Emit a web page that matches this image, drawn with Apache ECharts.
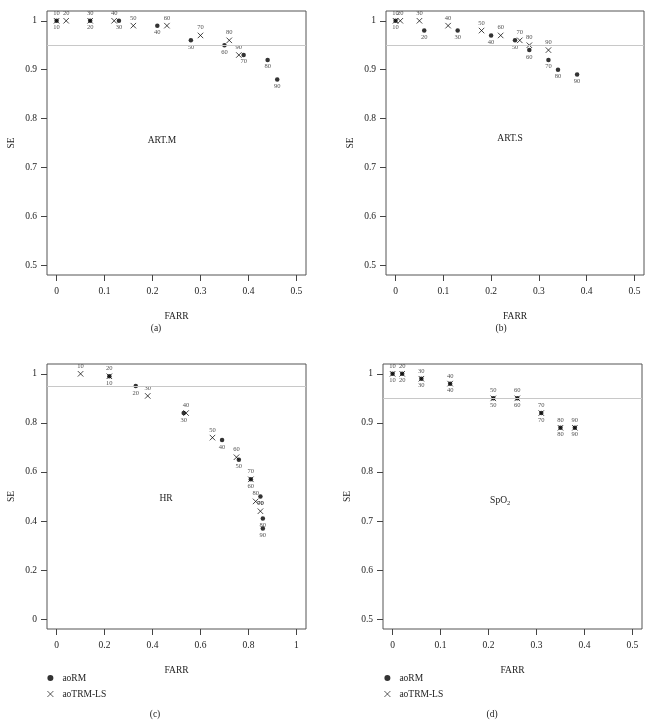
<!DOCTYPE html>
<html><head><meta charset="utf-8">
<script src="https://cdn.jsdelivr.net/npm/echarts@6/dist/echarts.min.js"></script>
<style>html,body{margin:0;padding:0;background:#fff}#c{width:653px;height:725px}</style>
</head><body><div id="c"></div>
<script>
const thresholds = [10, 20, 30, 40, 50, 60, 70, 80, 90];

// (a) ART.M
const artM_rm_farr  = [0, 0.07, 0.13, 0.21, 0.28, 0.35, 0.39, 0.44, 0.46];
const artM_rm_se    = [1, 1, 1, 0.99, 0.96, 0.95, 0.93, 0.92, 0.88];
const artM_trm_farr = [0, 0.02, 0.07, 0.12, 0.16, 0.23, 0.30, 0.36, 0.38];
const artM_trm_se   = [1, 1, 1, 1, 0.99, 0.99, 0.97, 0.96, 0.93];

// (b) ART.S
const artS_rm_farr  = [0, 0.06, 0.13, 0.20, 0.25, 0.28, 0.32, 0.34, 0.38];
const artS_rm_se    = [1, 0.98, 0.98, 0.97, 0.96, 0.94, 0.92, 0.90, 0.89];
const artS_trm_farr = [0, 0.01, 0.05, 0.11, 0.18, 0.22, 0.26, 0.28, 0.32];
const artS_trm_se   = [1, 1, 1, 0.99, 0.98, 0.97, 0.96, 0.95, 0.94];

// (c) HR
const hr_rm_farr  = [0.22, 0.33, 0.53, 0.69, 0.76, 0.81, 0.85, 0.86, 0.86];
const hr_rm_se    = [0.99, 0.95, 0.84, 0.73, 0.65, 0.57, 0.50, 0.41, 0.37];
const hr_trm_farr = [0.10, 0.22, 0.38, 0.54, 0.65, 0.75, 0.81, 0.83, 0.85];
const hr_trm_se   = [1.0, 0.99, 0.91, 0.84, 0.74, 0.66, 0.57, 0.48, 0.44];

// (d) SpO2
const spo2_rm_farr  = [0, 0.02, 0.06, 0.12, 0.21, 0.26, 0.31, 0.35, 0.38];
const spo2_rm_se    = [1, 1, 0.99, 0.98, 0.95, 0.95, 0.92, 0.89, 0.89];
const spo2_trm_farr = [0, 0.02, 0.06, 0.12, 0.21, 0.26, 0.31, 0.35, 0.38];
const spo2_trm_se   = [1, 1, 0.99, 0.98, 0.95, 0.95, 0.92, 0.89, 0.89];

const xTicksHalf = [0, 0.1, 0.2, 0.3, 0.4, 0.5];
const xTicksOne  = [0, 0.2, 0.4, 0.6, 0.8, 1];
const yTicksHalf = [0.5, 0.6, 0.7, 0.8, 0.9, 1];
const yTicksOne  = [0, 0.2, 0.4, 0.6, 0.8, 1];
const refLine = 0.95;

const FONT = '"Liberation Serif", "DejaVu Serif", serif';
const CROSS = 'path://M0,0L10,10M10,0L0,10';
const ink = '#222';

const panels = [
  {rmX: artM_rm_farr, rmY: artM_rm_se, trX: artM_trm_farr, trY: artM_trm_se,
   grid: {left: 47, top: 11, width: 259, height: 264},
   xr: [-0.02, 0.52], yr: [0.48, 1.02], xt: xTicksHalf, yt: yTicksHalf},
  {rmX: artS_rm_farr, rmY: artS_rm_se, trX: artS_trm_farr, trY: artS_trm_se,
   grid: {left: 386, top: 11, width: 258, height: 264},
   xr: [-0.02, 0.52], yr: [0.48, 1.02], xt: xTicksHalf, yt: yTicksHalf},
  {rmX: hr_rm_farr, rmY: hr_rm_se, trX: hr_trm_farr, trY: hr_trm_se,
   grid: {left: 47, top: 364, width: 259, height: 265},
   xr: [-0.04, 1.04], yr: [-0.04, 1.04], xt: xTicksOne, yt: yTicksOne},
  {rmX: spo2_rm_farr, rmY: spo2_rm_se, trX: spo2_trm_farr, trY: spo2_trm_se,
   grid: {left: 383, top: 364, width: 259, height: 265},
   xr: [-0.02, 0.52], yr: [0.48, 1.02], xt: xTicksHalf, yt: yTicksHalf}
];

const grids = [], xAxes = [], yAxes = [], series = [];
const fmt = v => (Math.round(v * 10) / 10).toString();

panels.forEach((p, i) => {
  grids.push(Object.assign({show: true, borderColor: '#555', borderWidth: 1, backgroundColor: 'transparent'}, p.grid));
  xAxes.push({
    gridIndex: i, type: 'value', min: p.xr[0], max: p.xr[1], position: 'bottom',
    name: 'FARR', nameLocation: 'middle', nameGap: 36,
    nameTextStyle: {fontFamily: FONT, fontSize: 9.5, color: ink},
    splitLine: {show: false},
    axisLine: {show: false, onZero: false},
    axisTick: {show: true, customValues: p.xt, length: 6, inside: false, lineStyle: {color: '#444'}},
    axisLabel: {customValues: p.xt, formatter: fmt, margin: 11, fontFamily: FONT, fontSize: 9.5, color: ink}
  });
  yAxes.push({
    gridIndex: i, type: 'value', min: p.yr[0], max: p.yr[1], position: 'left',
    name: 'SE', nameLocation: 'middle', nameGap: 31, nameRotate: 90,
    nameTextStyle: {fontFamily: FONT, fontSize: 9.5, color: ink},
    splitLine: {show: false},
    axisLine: {show: false, onZero: false},
    axisTick: {show: true, customValues: p.yt, length: 6, inside: false, lineStyle: {color: '#444'}},
    axisLabel: {customValues: p.yt, formatter: fmt, margin: 10, fontFamily: FONT, fontSize: 9.5, color: ink}
  });
  series.push({
    name: 'aoRM', type: 'scatter', xAxisIndex: i, yAxisIndex: i,
    symbol: 'circle', symbolSize: 4.5,
    itemStyle: {color: '#000'},
    data: p.rmX.map((x, k) => [x, p.rmY[k], thresholds[k]]),
    label: {show: true, position: 'bottom', distance: 1, formatter: q => q.data[2],
            fontFamily: FONT, fontSize: 6.5, color: ink},
    markLine: {silent: true, symbol: ['none', 'none'], label: {show: false},
               lineStyle: {color: '#c8c8c8', type: 'solid', width: 1},
               data: [{yAxis: refLine}]},
    z: 3
  });
  series.push({
    name: 'aoTRM-LS', type: 'scatter', xAxisIndex: i, yAxisIndex: i,
    symbol: CROSS, symbolSize: 5.5,
    itemStyle: {color: 'rgba(0,0,0,0)', borderColor: '#000', borderWidth: 0.9},
    data: p.trX.map((x, k) => [x, p.trY[k], thresholds[k]]),
    label: {show: true, position: 'top', distance: 1, formatter: q => q.data[2],
            fontFamily: FONT, fontSize: 6.5, color: ink},
    z: 4
  });
});

function txt(x, y, t, size, align) {
  return {type: 'text', x: x, y: y, silent: true,
    style: {text: t, fill: ink, font: size + 'px ' + FONT, textAlign: align || 'center', textVerticalAlign: 'middle'}};
}

const legendCommon = {
  orient: 'vertical', itemWidth: 6, itemHeight: 6, itemGap: 6, padding: 0,
  selectedMode: false,
  itemStyle: {borderWidth: 0.8},
  textStyle: {fontFamily: FONT, fontSize: 9.5, color: ink, padding: [0, 0, 0, 4]},
  data: [{name: 'aoRM', icon: 'circle'}, {name: 'aoTRM-LS', icon: CROSS}]
};

const option = {
  animation: false,
  backgroundColor: '#fff',
  grid: grids, xAxis: xAxes, yAxis: yAxes, series: series,
  legend: [
    Object.assign({left: 47, top: 673}, legendCommon),
    Object.assign({left: 384, top: 673}, legendCommon)
  ],
  graphic: [
    txt(162, 140, 'ART.M', 9.5),
    txt(510, 138, 'ART.S', 9.5),
    txt(166, 498, 'HR', 9.5),
    txt(507, 500, 'SpO', 9.5, 'right'),
    txt(507, 503, '2', 6.5, 'left'),
    txt(156, 328, '(a)', 9.5),
    txt(501, 328, '(b)', 9.5),
    txt(155, 714, '(c)', 9.5),
    txt(492, 714, '(d)', 9.5)
  ]
};

const chart = echarts.init(document.getElementById('c'), null, {renderer: 'canvas'});
chart.setOption(option);
</script>
</body></html>
